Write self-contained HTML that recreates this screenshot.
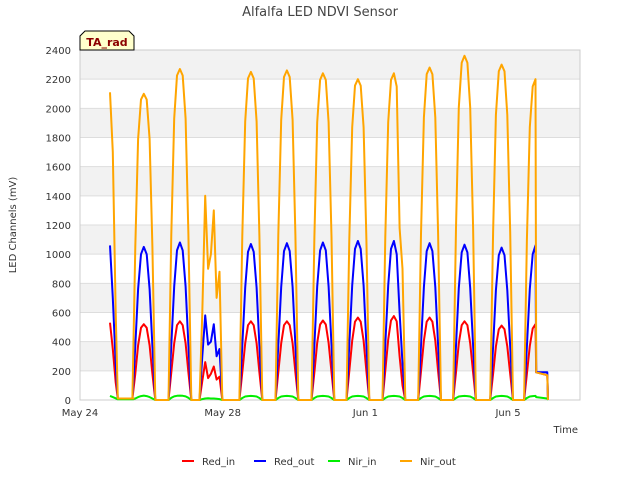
<!DOCTYPE html>
<html><head><meta charset="utf-8"><style>
body{margin:0;background:#fff;font-family:"Liberation Sans","DejaVu Sans",sans-serif;}
svg text{font-family:"DejaVu Sans","Liberation Sans",sans-serif;}
</style></head><body>
<svg id="chart" width="640" height="480" xmlns="http://www.w3.org/2000/svg">
<text x="320" y="16" text-anchor="middle" font-size="13" fill="#444">Alfalfa LED NDVI Sensor</text>
<g id="bands"></g><g id="grid"></g>
<rect x="80" y="50" width="500" height="350" fill="none" stroke="#ccc"/>
<g id="yt"></g><g id="xt"></g><g id="series"></g>
<text x="16" y="225" transform="rotate(-90 16 225)" text-anchor="middle" font-size="10" fill="#333">LED Channels (mV)</text>
<text x="578" y="433" text-anchor="end" font-size="10" fill="#333">Time</text>
<g>
<path d="M80,50 L80,36 L85,31 L129,31 L134,36 L134,50 Z" fill="#ffffcc" stroke="#000" stroke-width="1"/>
<text x="107" y="46" text-anchor="middle" font-size="11" font-weight="bold" fill="#8b0000">TA_rad</text></g>
<g id="legend"></g>
</svg>
<script>
const yTicks=[0,200,400,600,800,1000,1200,1400,1600,1800,2000,2200,2400];
const xTickDays=[0,4,8,12];
const xTickLabels=["May 24","May 28","Jun 1","Jun 5"];
const seriesNames=["Red_in","Red_out","Nir_in","Nir_out"];
const seriesColors=["#ff0000","#0000ff","#00ee00","#ffa500"];
const times=[0.84,0.92,1.0,1.06,1.5,
1.47,1.55,1.63,1.71,1.79,1.87,1.95,2.03,2.11,
2.48,2.56,2.64,2.72,2.80,2.88,2.96,3.04,3.12,
3.35,3.43,3.51,3.59,3.67,3.75,3.83,3.91,3.99,
4.47,4.55,4.63,4.71,4.79,4.87,4.95,5.03,5.11,
5.48,5.56,5.64,5.72,5.80,5.88,5.96,6.04,6.12,
6.49,6.57,6.65,6.73,6.81,6.89,6.97,7.05,7.13,
7.47,7.55,7.63,7.71,7.79,7.87,7.95,8.03,8.11,
8.48,8.56,8.64,8.72,8.80,8.88,8.96,9.04,9.12,
9.48,9.56,9.64,9.72,9.80,9.88,9.96,10.04,10.12,
10.46,10.54,10.62,10.70,10.78,10.86,10.94,11.02,11.10,
11.50,11.58,11.66,11.74,11.82,11.90,11.98,12.06,12.14,
12.45,12.53,12.61,12.69,12.77,12.79,13.1,13.12];
const redIn=[530,350,120,10,10,
10,180,375,495,520,495,375,180,0,
0,189,389,513,540,513,389,189,0,
0,130,260,150,180,230,140,160,0,
0,189,389,513,540,513,389,189,0,
0,189,389,513,540,513,389,189,0,
0,191,392,518,545,518,392,191,0,
0,198,407,537,565,537,407,198,0,
0,201,414,546,575,540,300,100,0,
0,198,407,537,565,537,407,198,0,
0,189,389,513,540,513,389,189,0,
0,179,367,485,510,485,367,179,0,
0,180,370,490,520,190,170,0];
const redOut=[1060,700,250,10,10,
10,370,760,1000,1050,1000,760,370,0,
0,378,778,1026,1080,1026,778,378,0,
0,300,580,380,400,520,300,350,0,
0,375,770,1016,1070,1016,770,375,0,
0,376,774,1021,1075,1021,774,376,0,
0,378,778,1026,1080,1026,778,378,0,
0,382,785,1036,1090,1036,785,382,0,
0,382,785,1036,1090,1000,600,250,0,
0,376,774,1021,1075,1021,774,376,0,
0,373,767,1012,1065,1012,767,373,0,
0,366,752,993,1045,993,752,366,0,
0,370,760,1000,1060,190,190,0];
const nirIn=[28,20,12,5,5,
5,10,20,27,30,27,20,10,0,
0,15,25,29,30,29,25,15,0,
0,6,10,12,10,10,8,6,0,
0,14,24,27,28,27,24,14,0,
0,14,24,27,28,27,24,14,0,
0,14,24,27,28,27,24,14,0,
0,14,24,27,28,27,24,14,0,
0,14,24,27,28,27,24,14,0,
0,14,24,27,28,27,24,14,0,
0,14,24,27,28,27,24,14,0,
0,14,24,27,28,27,24,14,0,
0,14,24,27,28,20,10,0];
const nirOut=[2110,1700,600,10,10,
10,1050,1790,2060,2100,2060,1790,1050,0,
0,1135,1930,2225,2270,2225,1930,1135,0,
0,600,1400,900,1000,1300,700,880,0,
0,1125,1910,2205,2250,2205,1910,1125,0,
0,1130,1920,2215,2260,2215,1920,1130,0,
0,1120,1904,2195,2240,2195,1904,1120,0,
0,1100,1870,2156,2200,2156,1870,1100,0,
0,1120,1904,2195,2240,2150,1180,900,0,
0,1140,1938,2234,2280,2234,1938,1140,0,
0,1180,2006,2313,2360,2313,2006,1180,0,
0,1150,1955,2254,2300,2254,1955,1150,0,
0,1100,1870,2150,2200,190,170,0];
const seriesData=[redIn,redOut,nirIn,nirOut];
const NS="http://www.w3.org/2000/svg";
const X=d=>80+d*35.67, Y=v=>400-v*350/2400;
function mk(t,a,p){const e=document.createElementNS(NS,t);for(const k in a)e.setAttribute(k,a[k]);p.appendChild(e);return e;}
const bands=document.getElementById('bands'),grid=document.getElementById('grid'),yt=document.getElementById('yt'),xt=document.getElementById('xt');
for(let i=0;i<yTicks.length-1;i++){if(i%2===1){const r=mk('rect',{x:80,y:Y(yTicks[i+1]),width:500,height:Y(yTicks[i])-Y(yTicks[i+1]),fill:'#f2f2f2'},bands);

}}
yTicks.forEach(v=>{const l=mk('line',{x1:80,x2:580,y1:Y(v),y2:Y(v),stroke:'#ddd'},grid);


const t=mk('text',{x:71,y:Y(v)+4,'text-anchor':'end','font-size':10,fill:'#333'},yt);t.textContent=v;

});
xTickDays.forEach((d,i)=>{const t=mk('text',{x:X(d),y:416,'text-anchor':'middle','font-size':10,fill:'#333'},xt);t.textContent=xTickLabels[i];

});
const sg=document.getElementById('series');
seriesData.forEach((arr,s)=>{const pts=arr.map((v,i)=>X(times[i]).toFixed(1)+','+Y(v).toFixed(1)).join(' ');
const p=mk('polyline',{points:pts,fill:'none',stroke:seriesColors[s],'stroke-width':2,'stroke-linejoin':'round'},sg);

});
const lg=document.getElementById('legend');const lx=[184,256,330,402];
seriesNames.forEach((n,i)=>{const g=mk('g',{},lg);


mk('line',{x1:lx[i]-2,x2:lx[i]+10,y1:461,y2:461,stroke:seriesColors[i],'stroke-width':2},g);
const t=mk('text',{x:lx[i]+18,y:465,'font-size':10,fill:'#333'},g);t.textContent=n;});
</script>
</body></html>
